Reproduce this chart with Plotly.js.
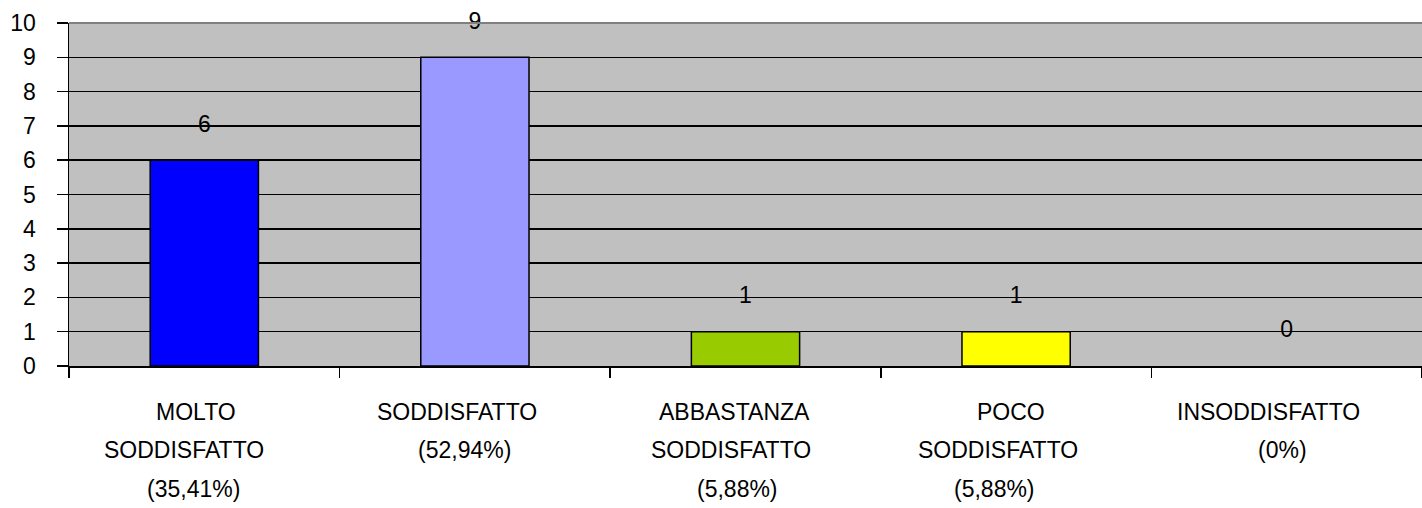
<!DOCTYPE html>
<html>
<head>
<meta charset="utf-8">
<script src="https://cdn.plot.ly/plotly-3.0.1.min.js"></script>
<style>html,body{margin:0;padding:0;background:#fff}#chart{width:1422px;height:508px}</style>
</head>
<body>
<div id="chart"></div>
<script>
const categories = ["MOLTO SODDISFATTO", "SODDISFATTO", "ABBASTANZA SODDISFATTO", "POCO SODDISFATTO", "INSODDISFATTO"];
const labelLines = [
  ["MOLTO", "SODDISFATTO", "(35,41%)"],
  ["SODDISFATTO", "(52,94%)"],
  ["ABBASTANZA", "SODDISFATTO", "(5,88%)"],
  ["POCO", "SODDISFATTO", "(5,88%)"],
  ["INSODDISFATTO", "(0%)"]
];
const values = [6, 9, 1, 1, 0];

// styling (not data)
const barColors = ["#0000FF", "#9999FF", "#99CC00", "#FFFF00", "#C0C0C0"];
const barLineWidths = values.map(v => v > 0 ? 1.5 : 0);
const labelXShift = [
  [-8, -20, -11],
  [-18, -10],
  [-11, -15, -8],
  [-5, -18, -22],
  [-18, -4]
];
const yTicks = [0, 1, 2, 3, 4, 5, 6, 7, 8, 9, 10];

const FONT = "Arial, 'Liberation Sans', sans-serif";
const FS = 23;

const bars = {
  type: "bar",
  x: categories,
  y: values,
  width: 0.4,
  marker: {color: barColors, line: {color: "#000000", width: barLineWidths}},
  hoverinfo: "none"
};
const labels = {
  type: "scatter",
  mode: "text",
  x: categories,
  y: values.map(v => v + 1),
  text: values.map(String),
  textposition: "middle center",
  textfont: {family: FONT, size: FS, color: "#000"},
  cliponaxis: false,
  hoverinfo: "none"
};

const annotations = [];
labelLines.forEach((lines, i) => {
  lines.forEach((t, j) => {
    annotations.push({
      x: categories[i], y: 0, xref: "x", yref: "y",
      text: t, showarrow: false,
      xanchor: "center", yanchor: "middle",
      xshift: labelXShift[i][j],
      yshift: -46 - 38.3 * j,
      font: {family: FONT, size: FS, color: "#000"}
    });
  });
});

const layout = {
  width: 1422, height: 508,
  margin: {l: 69, r: 0, t: 23, b: 142, pad: 0},
  paper_bgcolor: "#FFFFFF",
  plot_bgcolor: "#C0C0C0",
  showlegend: false,
  font: {family: FONT, size: FS, color: "#000"},
  xaxis: {
    type: "category",
    range: [-0.5, 4.5],
    showticklabels: false,
    tickson: "boundaries",
    ticks: "outside", ticklen: 10, tickwidth: 1.5, tickcolor: "#000",
    showline: true, linecolor: "#000", linewidth: 2,
    showgrid: false, zeroline: false
  },
  yaxis: {
    range: [0, 10],
    tickvals: yTicks,
    ticktext: yTicks.map(String),
    ticks: "outside", ticklen: 11, tickwidth: 1.5, tickcolor: "#000",
    ticklabelstandoff: 16,
    tickfont: {family: FONT, size: FS, color: "#000"},
    showline: true, linecolor: "#000", linewidth: 1.5,
    showgrid: true, gridcolor: "#000", gridwidth: 1.5,
    zeroline: false
  },
  shapes: [{
    type: "line", xref: "paper", yref: "paper",
    x0: 0, x1: 1, y0: 1, y1: 1,
    line: {color: "#808080", width: 2}, layer: "above"
  }],
  annotations: annotations
};

Plotly.newPlot("chart", [bars, labels], layout, {staticPlot: true, displayModeBar: false});
</script>
</body>
</html>
